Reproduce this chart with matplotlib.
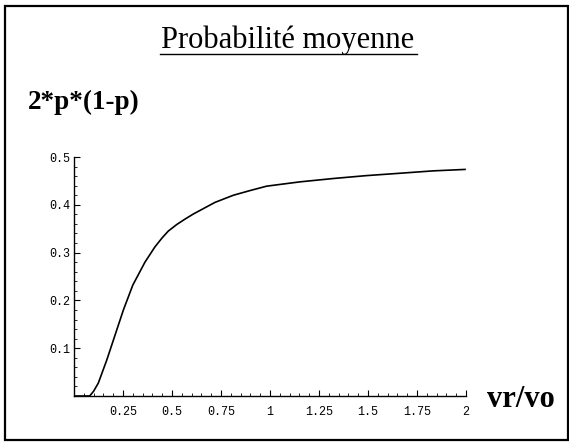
import matplotlib
matplotlib.use("Agg")
import matplotlib.pyplot as plt
from matplotlib.patches import Rectangle
from matplotlib.lines import Line2D

# Data
ratio = [0.0, 0.08, 0.10, 0.124, 0.167, 0.218, 0.252, 0.30, 0.362, 0.413, 0.450,
         0.481, 0.525, 0.566, 0.61, 0.651, 0.719, 0.813, 0.90, 0.983, 1.153,
         1.323, 1.49, 1.663, 1.833, 1.995]
prob = [0.0, 0.0, 0.010, 0.027, 0.075, 0.138, 0.18, 0.232, 0.28, 0.312, 0.331,
        0.345, 0.359, 0.370, 0.381, 0.39, 0.405, 0.42, 0.430, 0.439, 0.448,
        0.455, 0.461, 0.466, 0.471, 0.474]
x_ticks = [0.25, 0.5, 0.75, 1, 1.25, 1.5, 1.75, 2]
x_tick_labels = ["0.25", "0.5", "0.75", "1", "1.25", "1.5", "1.75", "2"]
y_ticks = [0.1, 0.2, 0.3, 0.4, 0.5]
y_tick_labels = ["0.1", "0.2", "0.3", "0.4", "0.5"]

W, H = 569, 443
fig = plt.figure(figsize=(W / 100, H / 100), dpi=100)

# outer frame
fig.patches.append(Rectangle((5 / W, 1 - 440 / H), (568 - 5) / W, (440 - 6) / H,
                             transform=fig.transFigure, fill=False,
                             edgecolor="black", linewidth=1.6))

ax = fig.add_axes([74 / W, 1 - 396 / H, (466 - 74) / W, (396 - 157) / H])
ax.plot(ratio, prob, color="black", linewidth=1.2)
ax.set_xlim(0, 2)
ax.set_ylim(0, 0.5)
for s in ["top", "right"]:
    ax.spines[s].set_visible(False)
for s in ["left", "bottom"]:
    ax.spines[s].set_linewidth(1.0)
ax.set_xticks(x_ticks)
ax.set_xticklabels(x_tick_labels, family="Liberation Mono", fontsize=8.5)
ax.set_yticks(y_ticks)
ax.set_yticklabels(y_tick_labels, family="Liberation Mono", fontsize=8.5)
ax.set_xticks([i * 0.05 for i in range(41)], minor=True)
ax.set_yticks([i * 0.02 for i in range(26)], minor=True)
ax.tick_params(which="major", direction="in", length=4, width=0.8)
ax.tick_params(axis="x", which="major", pad=7)
ax.tick_params(axis="y", which="major", pad=3)
ax.tick_params(which="minor", direction="in", length=2, width=0.6)

fig.text(288 / W, 1 - 48 / H, "Probabilité moyenne", family="Liberation Serif",
         fontsize=22, ha="center", va="baseline")
fig.add_artist(Line2D([160 / W, 417 / W], [1 - 54 / H, 1 - 54 / H],
                      transform=fig.transFigure, color="black", linewidth=1.0))
fig.text(28 / W, 1 - 109 / H, "2*p*(1-p)", family="Liberation Serif",
         fontweight="bold", fontsize=19.5, ha="left", va="baseline")
fig.text(487 / W, 1 - 407 / H, "vr/vo", family="Liberation Serif",
         fontweight="bold", fontsize=22, ha="left", va="baseline")

fig.savefig("out.png", dpi=100)
